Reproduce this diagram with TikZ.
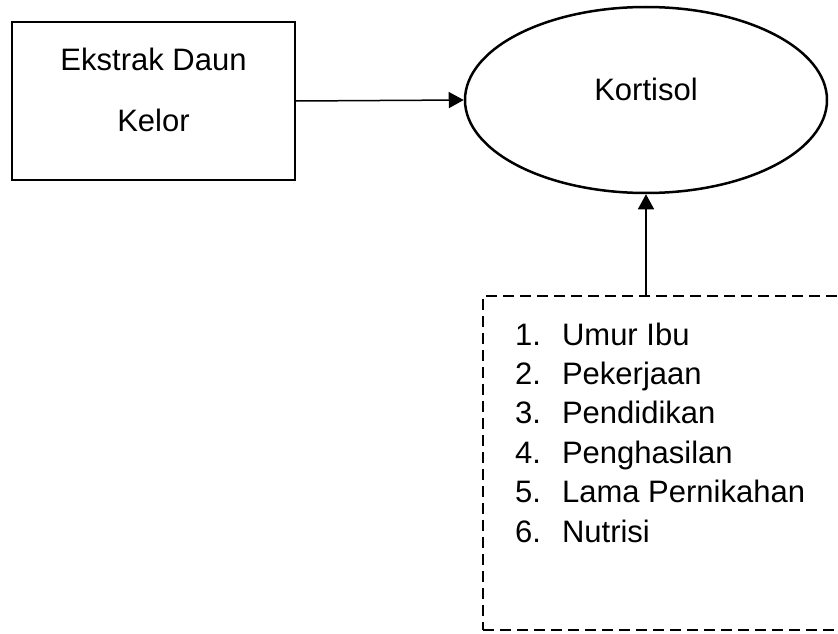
\documentclass[tikz,border=0pt]{standalone}
\usepackage{fontspec}
\setmainfont{Liberation Sans}
\usetikzlibrary{arrows.meta,shapes.geometric}

\begin{document}
\begin{tikzpicture}[x=1pt,y=-1pt,>={Triangle[length=15pt,width=16pt]}]
\tikzset{
  kasten/.style={draw, line width=2pt, minimum width=283pt, minimum height=158pt, inner sep=0pt, align=center, font=\fontsize{31}{61}\selectfont, text depth=23pt},
  oval/.style={draw, ellipse, line width=2.5pt, minimum width=362pt, minimum height=186pt, inner sep=0pt, font=\fontsize{31}{37}\selectfont, text depth=22pt},
  strichkasten/.style={draw, line width=2.5pt, dash pattern=on 11pt off 6pt, minimum width=367pt, minimum height=334pt, inner sep=0pt},
  pfeil/.style={->, line width=1.5pt}
}
%Rahmen
\useasboundingbox (0,0) rectangle (838,634);
\clip (0,0) rectangle (838,634);

%Kasten links
\node[kasten] (ekstrak) at (153.5,101) {Ekstrak Daun\\Kelor};

%Ellipse rechts
\node[oval] (kortisol) at (646,100) {Kortisol};

%gestrichelter Kasten unten
\node[strichkasten] (faktor) at (666.5,463) {};
\node[anchor=base west, inner sep=0pt, font=\fontsize{31}{39.4}\selectfont] (liste) at (515,345) {%
\begin{tabular}[t]{@{}l@{\hspace{21pt}}l@{}}
1. & Umur Ibu\\
2. & Pekerjaan\\
3. & Pendidikan\\
4. & Penghasilan\\
5. & Lama Pernikahan\\
6. & Nutrisi
\end{tabular}};

%Pfeile
\draw[pfeil] (ekstrak.east) -- (kortisol.west);
\draw[pfeil] (faktor.north -| kortisol.south) -- (kortisol.south);

\end{tikzpicture}
\end{document}
